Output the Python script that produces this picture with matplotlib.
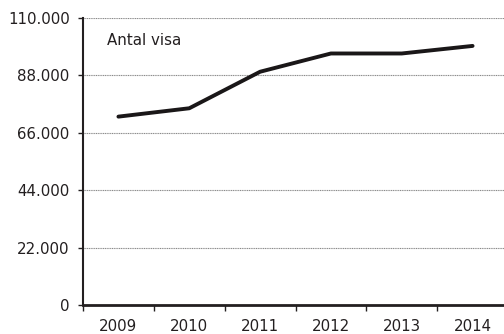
import matplotlib.pyplot as plt
from matplotlib.ticker import FuncFormatter

years = ['2009', '2010', '2011', '2012', '2013', '2014']
visa = [72200, 75400, 89400, 96400, 96400, 99300]
yticks = [0, 22000, 44000, 66000, 88000, 110000]

fig = plt.figure(figsize=(5.04, 3.34), dpi=100)
ax = fig.add_axes([83 / 504, 29 / 334, 425 / 504, 287 / 334])

x = range(len(years))
ax.plot(x, visa, color='#1a1718', linewidth=2.8, solid_capstyle='round', zorder=3)

ax.set_xlim(-0.5, len(years) - 0.5)
ax.set_ylim(0, 110000)
ax.set_yticks(yticks)
ax.yaxis.set_major_formatter(FuncFormatter(lambda v, p: f'{int(v):,}'.replace(',', '.')))
ax.set_xticks(x)
ax.set_xticklabels(years)
# ticks between categories on the x axis
ax.set_xticks([i + 0.5 for i in range(-1, len(years))], minor=True)
ax.tick_params(axis='x', which='major', length=0, pad=10)
ax.tick_params(axis='x', which='minor', length=4, width=1, color='#231f20')
ax.tick_params(axis='y', length=3.6, width=1, color='#231f20', pad=6)
ax.tick_params(labelsize=10.8, labelcolor='#231f20')

ax.grid(axis='y', color='#8a8a8a', linestyle=(0, (1, 0.6)), linewidth=0.8)
ax.set_axisbelow(True)

for s in ['top', 'right']:
    ax.spines[s].set_visible(False)
ax.spines['left'].set_linewidth(1.5)
ax.spines['bottom'].set_linewidth(2)
ax.spines['left'].set_color('#231f20')
ax.spines['bottom'].set_color('#231f20')

ax.text(0.057, 0.92, 'Antal visa', transform=ax.transAxes, fontsize=10.8,
        color='#231f20', va='center', ha='left')

plt.savefig('out.png', dpi=100)
plt.close(fig)
